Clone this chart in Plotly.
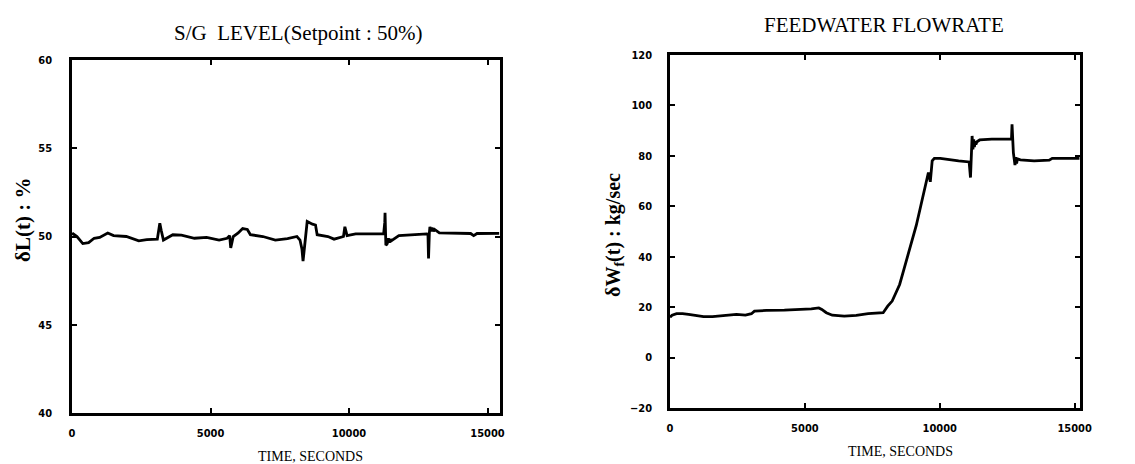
import plotly.graph_objects as go

# --- S/G level data (time s, level %) ---
level_t = [0, 40, 180, 390, 600, 800, 1000, 1290, 1500, 1960, 2410, 2700, 3080, 3130, 3170,
           3220, 3300, 3640, 3950, 4420, 4860, 5310, 5600, 5690, 5730, 5780, 5820, 6000,
           6160, 6330, 6440, 6890, 7340, 7780, 8120, 8230, 8300, 8340, 8400, 8430, 8470,
           8490, 8680, 8790, 8850, 9240, 9460, 9800, 9850, 9930, 10240, 11250, 11290, 11300,
           11330, 11380, 11420, 11450, 11490, 11520, 11800, 12810, 12850, 12870, 12900,
           12920, 12960, 13000, 13050, 13090, 13260, 14390, 14500, 14620, 15420]
level_v = [50.1, 50.15, 50.0, 49.6, 49.65, 49.9, 49.95, 50.2, 50.05, 50.0, 49.75, 49.82,
           49.85, 50.3, 50.75, 50.35, 49.8, 50.1, 50.08, 49.9, 49.95, 49.8, 49.9, 50.05, 49.35,
           49.7, 50.0, 50.2, 50.45, 50.4, 50.1, 50.0, 49.8, 49.88, 50.0, 49.8, 49.3, 48.6, 49.4,
           49.9, 50.5, 50.85, 50.7, 50.65, 50.1, 50.0, 49.85, 50.0, 50.55, 50.05, 50.15, 50.15,
           50.8, 51.35, 49.5, 49.6, 49.9, 49.65, 49.85, 49.75, 50.05, 50.15, 50.1, 48.75, 50.2,
           50.55, 50.3, 50.5, 50.3, 50.4, 50.2, 50.17, 50.05, 50.17, 50.18]

# --- Feedwater flowrate data (time s, kg/sec) ---
flow_t = [0, 78, 244, 466, 688, 1021, 1243, 1576, 2020, 2464, 2797, 3019, 3130, 3574, 4240,
          4906, 5240, 5517, 5628, 5794, 6016, 6460, 6904, 7348, 7681, 7903, 8070, 8236, 8347,
          8514, 8680, 8900, 9130, 9300, 9460, 9580, 9650, 9720, 9800, 10020, 10700, 11090,
          11140, 11200, 11230, 11260, 11285, 11310, 11340, 11380, 11480, 11930, 12660, 12680,
          12730, 12760, 12790, 12820, 12850, 12880, 12990, 13500, 14060, 14170, 15180]
flow_v = [16.0, 16.8, 17.4, 17.4, 17.1, 16.4, 16.2, 16.2, 16.7, 17.1, 16.8, 17.4, 18.4, 18.7,
          18.8, 19.1, 19.3, 19.7, 19.1, 17.8, 16.8, 16.4, 16.7, 17.4, 17.8, 17.8, 20.4, 22.4,
          25.0, 29.0, 35.3, 43.2, 52.4, 60.3, 68.2, 73.4, 69.7, 78.0, 79.0, 79.0, 78.0, 77.6,
          71.4, 87.9, 82.6, 86.5, 83.5, 85.8, 84.5, 85.6, 86.3, 86.6, 86.6, 92.5, 81.3, 78.5,
          76.3, 79.5, 77.0, 78.8, 78.4, 78.0, 78.3, 79.0, 79.0]

x_ticks = [0, 5000, 10000, 15000]
x_ticktext = ["0", "5000", "10000", "15000"]
level_ticks = [40, 45, 50, 55, 60]
flow_ticks = [-20, 0, 20, 40, 60, 80, 100, 120]

W, H = 1135, 464
serif = "Liberation Serif, Times New Roman, serif"
tickfont = dict(family="Liberation Sans Narrow, Arial Narrow, DejaVu Sans Condensed, sans-serif",
                size=11, color="black", weight="bold")

fig = go.Figure()
fig.add_trace(go.Scatter(x=level_t, y=level_v, mode="lines", xaxis="x", yaxis="y",
                         line=dict(color="black", width=2.8), showlegend=False))
fig.add_trace(go.Scatter(x=flow_t, y=flow_v, mode="lines", xaxis="x2", yaxis="y2",
                         line=dict(color="black", width=2.8), showlegend=False))

axis_common = dict(showline=True, linecolor="black", linewidth=2.5, mirror="ticks",
                   ticks="inside", ticklen=5, tickwidth=2, tickcolor="black",
                   showgrid=False, zeroline=False, tickfont=tickfont, automargin=False)

fig.update_layout(
    width=W, height=H,
    margin=dict(l=0, r=0, t=0, b=0),
    paper_bgcolor="white", plot_bgcolor="white",
    xaxis=dict(domain=[64 / W, 492 / W], range=[0, 15450], tickvals=x_ticks,
               ticktext=x_ticktext, ticklabelstandoff=8, anchor="y", **axis_common),
    yaxis=dict(domain=[1 - 405 / H, 1 - 52 / H], range=[40, 60], tickvals=level_ticks,
               ticklabelstandoff=15, anchor="x", **axis_common),
    xaxis2=dict(domain=[662 / W, 1072 / W], range=[0, 15200], tickvals=x_ticks,
                ticktext=x_ticktext, ticklabelstandoff=8, anchor="y2", **axis_common),
    yaxis2=dict(domain=[1 - 400 / H, 1 - 47 / H], range=[-20, 120], tickvals=flow_ticks,
                ticklabelstandoff=13, anchor="x2", **axis_common),
)

def ann(text, x, y, size, angle=0):
    fig.add_annotation(text=text, x=x / W, y=1 - y / H, xref="paper", yref="paper",
                       showarrow=False, textangle=angle, xanchor="center", yanchor="middle",
                       font=dict(family=serif, size=size, color="black"))

ann("S/G  LEVEL(Setpoint : 50%)", 290, 25, 21)
ann("FEEDWATER FLOWRATE", 876, 17, 21)
ann("TIME, SECONDS", 302, 448, 14)
ann("TIME, SECONDS", 892, 443, 14)
ann("<b>δL(t) : %</b>", 15, 212, 21, -90)
ann("<b>δW<sub>f</sub>(t) : kg/sec</b>", 606, 227, 20, -90)

fig.write_html("out.html")
